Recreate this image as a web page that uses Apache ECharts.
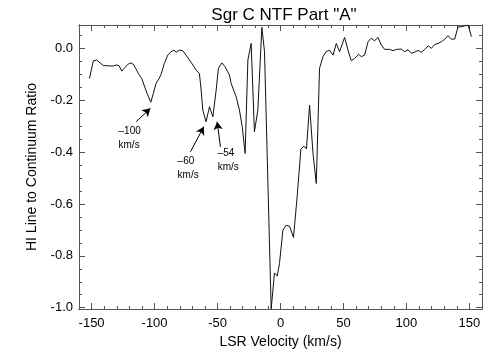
<!DOCTYPE html>
<html>
<head>
<meta charset="utf-8">
<script src="https://cdn.jsdelivr.net/npm/echarts@6/dist/echarts.min.js"></script>
<style>html,body{margin:0;padding:0;background:#fff;}#c{width:504px;height:360px;}</style>
</head>
<body>
<div id="c"></div>
<script>
const velocity = [-151.7,-148.6,-146.0,-143.3,-140.7,-138.0,-135.4,-132.8,-130.0,-128.2,-126.0,-124.0,-121.3,-118.9,-116.9,-115.0,-112.9,-110.2,-108.1,-105.7,-103.0,-101.0,-98.8,-96.4,-94.8,-92.2,-89.5,-86.9,-84.7,-82.9,-80.3,-77.6,-75.0,-72.3,-69.6,-67.0,-64.4,-63.0,-61.7,-59.1,-56.4,-53.7,-51.1,-49.3,-46.6,-44.0,-42.0,-40.5,-39.2,-37.8,-35.2,-32.6,-30.4,-28.1,-25.9,-23.3,-20.7,-18.0,-14.8,-12.7,-7.4,-4.8,-2.6,-0.8,1.9,4.5,7.2,10.3,13.0,16.2,18.6,20.6,23.1,25.8,28.4,31.0,33.7,36.3,39.0,41.7,44.3,46.9,50.9,53.6,56.2,58.8,62.0,64.2,66.8,69.5,72.1,74.7,77.4,80.0,82.7,86.6,89.3,92.0,96.0,98.6,101.3,103.9,106.5,109.2,111.8,114.5,117.2,119.8,122.4,125.1,127.7,130.4,133.0,135.7,138.3,141.0,143.6,146.3,149.0,151.6];
const ratio = [-0.116,-0.048,-0.045,-0.056,-0.066,-0.067,-0.068,-0.068,-0.064,-0.067,-0.088,-0.077,-0.062,-0.056,-0.061,-0.077,-0.097,-0.116,-0.145,-0.177,-0.208,-0.174,-0.135,-0.116,-0.100,-0.058,-0.026,-0.013,-0.007,-0.015,-0.007,-0.009,-0.026,-0.045,-0.064,-0.084,-0.097,-0.161,-0.238,-0.283,-0.225,-0.264,-0.161,-0.077,-0.056,-0.071,-0.090,-0.103,-0.135,-0.142,-0.187,-0.238,-0.302,-0.405,-0.045,0.019,-0.322,-0.238,0.081,-0.013,-1.005,-0.866,-0.878,-0.830,-0.701,-0.682,-0.686,-0.729,-0.585,-0.388,-0.377,-0.388,-0.219,-0.405,-0.521,-0.077,-0.032,-0.013,-0.007,-0.026,0.019,-0.013,0.042,-0.007,-0.048,-0.039,-0.023,-0.032,-0.026,0.025,0.039,0.029,0.042,0.013,-0.004,-0.004,-0.009,-0.004,-0.003,-0.013,-0.005,-0.019,-0.015,-0.008,-0.015,-0.005,0.010,0.000,0.015,0.019,0.025,0.035,0.049,0.035,0.036,0.083,0.083,0.087,0.090,0.045];

const xMajorTicks = [-150,-100,-50,0,50,100,150];
const xMinorTicks = [-160,-150,-140,-130,-120,-110,-100,-90,-80,-70,-60,-50,-40,-30,-20,-10,0,10,20,30,40,50,60,70,80,90,100,110,120,130,140,150,160];
const yMajorTicks = [-1.0,-0.8,-0.6,-0.4,-0.2,0.0];
const yMinorTicks = [-1.0,-0.95,-0.9,-0.85,-0.8,-0.75,-0.7,-0.65,-0.6,-0.55,-0.5,-0.45,-0.4,-0.35,-0.3,-0.25,-0.2,-0.15,-0.1,-0.05,0.0,0.05];

// annotation labels: [velocity, ratio, text]
const annotLabels = [[-129, -0.346, '\u2013100\nkm/s'], [-82.1, -0.462, '\u201360\nkm/s'], [-50.3, -0.433, '\u201354\nkm/s']];
// arrows: [fromVel, fromRatio, toVel, toRatio]
const annotArrows = [[-114.6, -0.283, -103.3, -0.231], [-71.5, -0.399, -60.9, -0.302], [-47.7, -0.380, -50.3, -0.283]];

const X_MIN = -160, X_MAX = 160, Y_MIN = -1.005, Y_MAX = 0.09;
const FONT = 'Liberation Sans, Arial, sans-serif';
const AXIS_COLOR = '#555';

function xAxisDef(pos, ticks, len, showLabel, name) {
  return {
    type: 'value', position: pos, min: X_MIN, max: X_MAX, gridIndex: 0,
    name: name || '', nameLocation: 'middle', nameGap: 22,
    nameTextStyle: {fontFamily: FONT, fontSize: 14, color: '#000'},
    axisLine: {show: true, onZero: false, lineStyle: {color: AXIS_COLOR, width: 1}},
    axisTick: {show: true, inside: true, length: len, customValues: ticks, lineStyle: {color: AXIS_COLOR}},
    axisLabel: {show: showLabel, customValues: xMajorTicks, margin: 8, fontFamily: FONT, fontSize: 13, color: '#000',
      formatter: v => String(Math.round(v))},
    splitLine: {show: false}
  };
}
function yAxisDef(pos, ticks, len, showLabel, name) {
  return {
    type: 'value', position: pos, min: Y_MIN, max: Y_MAX, gridIndex: 0,
    name: name || '', nameLocation: 'middle', nameGap: 40,
    nameTextStyle: {fontFamily: FONT, fontSize: 14, color: '#000'},
    axisLine: {show: true, onZero: false, lineStyle: {color: AXIS_COLOR, width: 1}},
    axisTick: {show: true, inside: true, length: len, customValues: ticks, lineStyle: {color: AXIS_COLOR}},
    axisLabel: {show: showLabel, customValues: yMajorTicks, margin: 6, fontFamily: FONT, fontSize: 13, color: '#000',
      formatter: v => v.toFixed(1)},
    splitLine: {show: false}
  };
}

const chart = echarts.init(document.getElementById('c'), null, {renderer: 'canvas'});
chart.setOption({
  animation: false,
  backgroundColor: '#fff',
  title: {text: 'Sgr C NTF Part "A"', left: 279, top: 2, textAlign: 'center',
    textStyle: {fontFamily: FONT, fontSize: 17, fontWeight: 'normal', color: '#000'}},
  grid: {left: 79, right: 22, top: 25, bottom: 51, containLabel: false},
  xAxis: [
    xAxisDef('bottom', xMajorTicks, 6, true, 'LSR Velocity (km/s)'),
    xAxisDef('bottom', xMinorTicks, 3, false),
    xAxisDef('top', xMajorTicks, 6, false),
    xAxisDef('top', xMinorTicks, 3, false)
  ],
  yAxis: [
    yAxisDef('left', yMajorTicks, 6, true, 'HI Line to Continuum Ratio'),
    yAxisDef('left', yMinorTicks, 3, false),
    yAxisDef('right', yMajorTicks, 6, false),
    yAxisDef('right', yMinorTicks, 3, false)
  ],
  series: [
    {
      type: 'line', xAxisIndex: 0, yAxisIndex: 0,
      data: velocity.map((v, i) => [v, ratio[i]]),
      showSymbol: false, symbol: 'none', smooth: false,
      lineStyle: {color: '#111', width: 1},
      markLine: {
        silent: true, symbol: ['none', 'arrow'], symbolSize: [7, 8],
        label: {show: false},
        lineStyle: {color: '#000', width: 1, type: 'solid'},
        data: annotArrows.map(a => [{coord: [a[0], a[1]]}, {coord: [a[2], a[3]]}])
      }
    },
    {
      type: 'scatter', xAxisIndex: 0, yAxisIndex: 0,
      data: annotLabels,
      symbolSize: 1, itemStyle: {color: 'rgba(0,0,0,0)'},
      label: {show: true, position: 'right', distance: 0, formatter: p => p.data[2],
        fontFamily: FONT, fontSize: 10, lineHeight: 14, color: '#000', align: 'left', opacity: 1}
    }
  ]
});
</script>
</body>
</html>
